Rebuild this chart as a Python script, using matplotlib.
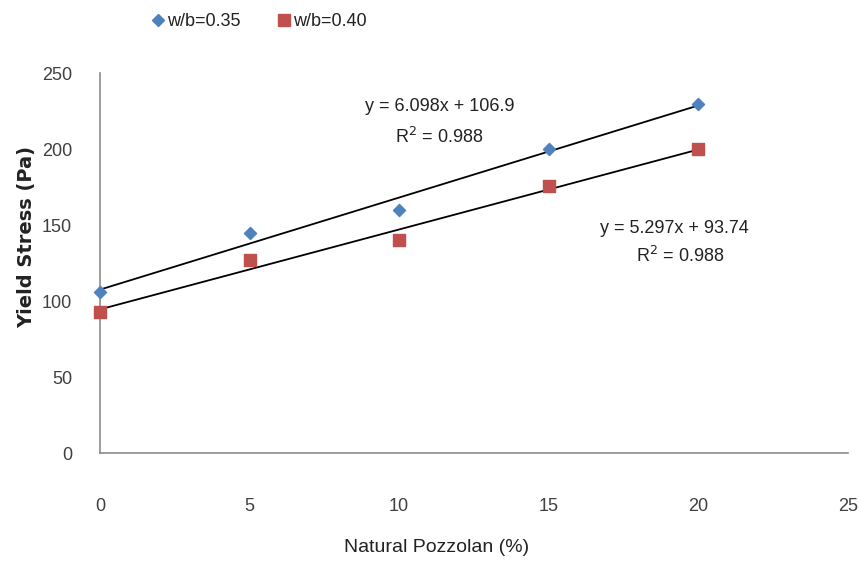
import numpy as np
import matplotlib.pyplot as plt
from matplotlib.lines import Line2D

plt.rcParams['font.family'] = ['Liberation Sans Narrow', 'Liberation Sans', 'DejaVu Sans']

pozzolan = [0, 5, 10, 15, 20]
ys_035 = [106, 145, 160, 200, 230]
ys_040 = [93, 127, 140, 176, 200]
series_names = ['w/b=0.35', 'w/b=0.40']
eq_035 = ['y = 6.098x + 106.9', 'R$^2$ = 0.988']
eq_040 = ['y = 5.297x + 93.74', 'R$^2$ = 0.988']
xticks = [0, 5, 10, 15, 20, 25]
yticks = [0, 50, 100, 150, 200, 250]

blue = '#4F81BD'
red = '#C0504D'
grey = '#404040'

fig = plt.figure(figsize=(8.61, 5.63), dpi=100)
ax = fig.add_axes([0.116, 0.195, 0.869, 0.675])

# trend lines
for ys in (ys_035, ys_040):
    k, b = np.polyfit(pozzolan, ys, 1)
    xx = np.array([pozzolan[0], pozzolan[-1]])
    ax.plot(xx, k * xx + b, color='black', lw=1.3, zorder=2)

ax.scatter(pozzolan, ys_035, marker='D', s=38, color=blue, zorder=3, clip_on=False)
ax.scatter(pozzolan, ys_040, marker='s', s=75, color=red, zorder=3, clip_on=False)

ax.set_xlim(0, 25)
ax.set_ylim(0, 250)
ax.set_xticks(xticks)
ax.set_yticks(yticks)
ax.tick_params(length=0, labelsize=13, colors=grey)
ax.tick_params(axis='x', pad=32)
ax.tick_params(axis='y', pad=20)
for side in ('top', 'right'):
    ax.spines[side].set_visible(False)
for side in ('left', 'bottom'):
    ax.spines[side].set_color('#8C8C8C')
    ax.spines[side].set_linewidth(1.2)

ax.set_xlabel('Natural Pozzolan (%)', fontsize=14, color='#222222')
ax.xaxis.set_label_coords(0.45, -0.225)
ax.set_ylabel('Yield Stress (Pa)', fontsize=14, fontweight='bold', color='#222222',
              family=['DejaVu Sans'])
ax.yaxis.set_label_coords(-0.085, 0.57)

ax.text(11.35, 228, eq_035[0], ha='center', va='center', fontsize=13, color='#222222')
ax.text(11.35, 208, eq_035[1], ha='center', va='center', fontsize=13, color='#222222')
ax.text(19.2, 148, eq_040[0], ha='center', va='center', fontsize=13, color='#222222')
ax.text(19.4, 130, eq_040[1], ha='center', va='center', fontsize=13, color='#222222')

handles = [Line2D([], [], marker='D', ls='none', color=blue, markersize=6),
           Line2D([], [], marker='s', ls='none', color=red, markersize=8)]
fig.legend(handles, series_names, loc='center', bbox_to_anchor=(0.3, 0.962), ncol=2,
           frameon=False, fontsize=13, handletextpad=0.1, columnspacing=2.0,
           handlelength=0.8, labelcolor='#222222')

fig.savefig('out.png', dpi=100)
